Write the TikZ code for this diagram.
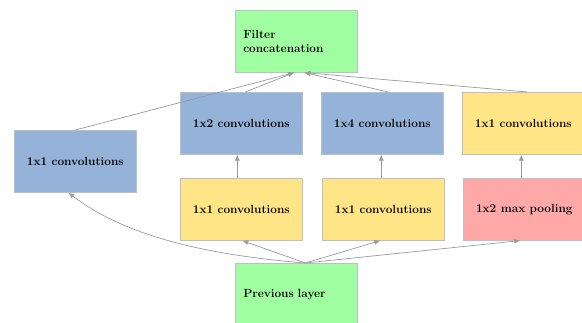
\documentclass[tikz,border=0pt]{standalone}
\usetikzlibrary{arrows.meta}
\definecolor{cblue}{HTML}{95B3D8}
\definecolor{cgreen}{HTML}{A0FFA0}
\definecolor{cyellow}{HTML}{FFE585}
\definecolor{cred}{HTML}{FFA8A8}
\definecolor{cedge}{HTML}{B8C0C8}
\definecolor{carrow}{HTML}{9A9A9A}
\begin{document}
\begin{tikzpicture}[x=1pt,y=-1pt,
  box/.style={draw=cedge,line width=0.6pt,minimum width=122pt,minimum height=62pt,
    anchor=north west,inner sep=8pt,font=\fontsize{11.8}{14}\selectfont\bfseries},
  lbox/.style={box,align=left,text width=106pt},
  conn/.style={draw=carrow,line width=0.7pt,-{Latex[length=6pt,width=5pt]}}]
\useasboundingbox (0,0) rectangle (582,322);
\node[lbox,fill=cgreen] (filt) at (235,10) {Filter\\concatenation};
\node[box,fill=cblue] (c12) at (180,92) {1x2 convolutions};
\node[box,fill=cblue] (c14) at (321,92) {1x4 convolutions};
\node[box,fill=cyellow] (c11r) at (462,92) {1x1 convolutions};
\node[box,fill=cblue] (c11l) at (14,130) {1x1 convolutions};
\node[box,fill=cyellow] (y1) at (180,178) {1x1 convolutions};
\node[box,fill=cyellow] (y2) at (322,178) {1x1 convolutions};
\node[box,fill=cred] (pool) at (463,178) {1x2 max pooling};
\node[lbox,fill=cgreen] (prev) at (235,263) {Previous layer};
% to filter concatenation
\draw[conn] (c11l.north) -- ([xshift=-2pt]filt.south);
\draw[conn] ([xshift=4pt]c12.north) -- ([xshift=-2pt]filt.south);
\draw[conn] ([xshift=6pt]c14.north) -- ([xshift=8pt]filt.south);
\draw[conn] ([xshift=4pt]c11r.north) -- ([xshift=8pt]filt.south);
% vertical
\draw[conn] ([xshift=-4pt]y1.north) -- ([xshift=-4pt]c12.south);
\draw[conn] ([xshift=-2pt]y2.north) -- ([xshift=-1pt]c14.south);
\draw[conn] ([xshift=-3pt]pool.north) -- ([xshift=-2pt]c11r.south);
% from previous layer
\draw[conn] ([xshift=9pt]prev.north) .. controls (220,256) and (130,240) .. ([xshift=-7pt]c11l.south);
\draw[conn] ([xshift=9pt]prev.north) -- ([xshift=1pt]y1.south);
\draw[conn] ([xshift=9pt]prev.north) -- ([xshift=-3pt]y2.south);
\draw[conn] ([xshift=9pt]prev.north) -- ([xshift=-4pt]pool.south);
\end{tikzpicture}
\end{document}
